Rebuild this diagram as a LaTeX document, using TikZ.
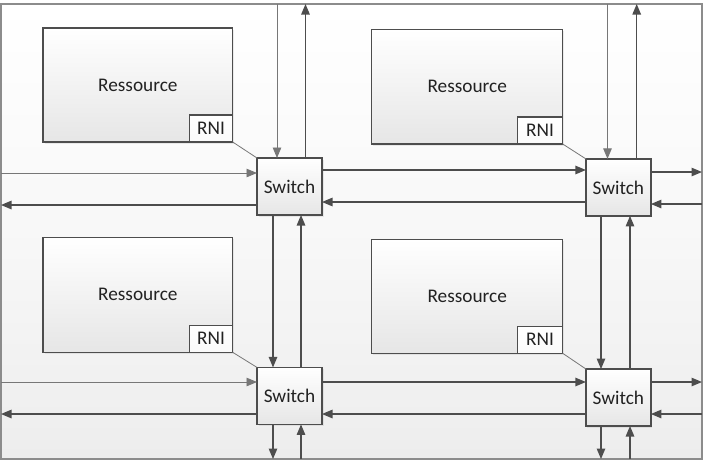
\documentclass[tikz,border=0pt]{standalone}
\usepackage{fontspec}
\setmainfont{Carlito}
\usetikzlibrary{arrows.meta,shadows}
\definecolor{linec}{HTML}{4D4D4D}
\definecolor{lightc}{HTML}{777777}
\definecolor{framec}{HTML}{8C8C8C}
\definecolor{textc}{HTML}{222222}
\definecolor{boxbot}{HTML}{E6E6E6}
\definecolor{bgbot}{HTML}{EDEDED}
\begin{document}
\begin{tikzpicture}[x=1pt,y=-1pt,
  every node/.style={inner sep=0pt,outer sep=0pt,text=textc,font=\fontsize{19.3}{22}\selectfont},
  bgframe/.style={draw=framec,line width=1.2pt,top color=white,bottom color=bgbot,middle color=white!60!bgbot},
  resbox/.style={draw=linec,line width=1.2pt,top color=white,bottom color=boxbot,
    drop shadow={opacity=0.15,shadow xshift=1.5pt,shadow yshift=-1.5pt}},
  rnibox/.style={draw=linec,line width=1.1pt,fill=white,top color=white,bottom color=white!80!boxbot},
  switchbox/.style={draw=linec,line width=1.2pt,top color=white,bottom color=boxbot,
    minimum width=65pt,minimum height=57pt,
    drop shadow={opacity=0.15,shadow xshift=1.5pt,shadow yshift=-1.5pt}},
  conn/.style={draw=linec,line width=1.2pt,-{Triangle[length=10.5pt,width=8.5pt]}},
  connlight/.style={draw=lightc,line width=0.9pt,-{Triangle[length=10.5pt,width=8.5pt]}},
  link/.style={draw=lightc,line width=0.8pt}
]
\useasboundingbox (0,0) rectangle (705,467);
\fill[white] (0,0) rectangle (705,467);

% frame
\node[bgframe,minimum width=701pt,minimum height=455pt] (frame) at (351.5,231.5) {};

% resources
\node[resbox,minimum width=189.7pt,minimum height=114pt] (r1) at (137.85,85) {Ressource};
\node[resbox,minimum width=191pt,minimum height=114.7pt] (r2) at (467.2,86.65) {Ressource};
\node[resbox,minimum width=189.7pt,minimum height=115pt] (r3) at (137.85,294.8) {Ressource};
\node[resbox,minimum width=191pt,minimum height=114pt] (r4) at (467.2,296.3) {Ressource};

% RNI
\node[rnibox,minimum width=43.4pt,minimum height=27pt,anchor=south east] (n1) at (r1.south east) {RNI};
\node[rnibox,minimum width=45.4pt,minimum height=27pt,anchor=south east] (n2) at (r2.south east) {RNI};
\node[rnibox,minimum width=43.4pt,minimum height=27pt,anchor=south east] (n3) at (r3.south east) {RNI};
\node[rnibox,minimum width=45.4pt,minimum height=27pt,anchor=south east] (n4) at (r4.south east) {RNI};

% switches
\node[switchbox] (s1) at (289.5,186.5) {Switch};
\node[switchbox] (s2) at (618.4,187.4) {Switch};
\node[switchbox] (s3) at (289.5,395.9) {Switch};
\node[switchbox] (s4) at (618.4,397.5) {Switch};

% RNI links
\draw[link] (n1.south east) -- (s1.north west);
\draw[link] (n2.south east) -- (s2.north west);
\draw[link] (n3.south east) -- (s3.north west);
\draw[link] (n4.south east) -- (s4.north west);

% guide coordinates
\coordinate (xa1) at (277,0);
\coordinate (xa2) at (305.5,0);
\coordinate (xa3) at (273,0);
\coordinate (xa4) at (301,0);
\coordinate (xb1) at (607.5,0);
\coordinate (xb2) at (636.7,0);
\coordinate (xb3) at (601,0);
\coordinate (xb4) at (630,0);
\coordinate (yh1) at (0,173);
\coordinate (yh2) at (0,205);
\coordinate (yh3) at (0,170);
\coordinate (yh4) at (0,202);
\coordinate (yh5) at (0,172);
\coordinate (yh6) at (0,204);
\coordinate (yg1) at (0,382);
\coordinate (yg2) at (0,414);

% vertical connectors, left column
\draw[connlight] (frame.north -| xa1) -- (s1.north -| xa1);
\draw[conn] (s1.north -| xa2) -- (frame.north -| xa2);
\draw[conn] (s1.south -| xa3) -- (s3.north -| xa3);
\draw[conn] (s3.north -| xa4) -- (s1.south -| xa4);
\draw[conn] (s3.south -| xa3) -- (frame.south -| xa3);
\draw[conn] (frame.south -| xa4) -- (s3.south -| xa4);

% vertical connectors, right column
\draw[connlight] (frame.north -| xb1) -- (s2.north -| xb1);
\draw[conn] (s2.north -| xb2) -- (frame.north -| xb2);
\draw[conn] (s2.south -| xb3) -- (s4.north -| xb3);
\draw[conn] (s4.north -| xb4) -- (s2.south -| xb4);
\draw[conn] (s4.south -| xb3) -- (frame.south -| xb3);
\draw[conn] (frame.south -| xb4) -- (s4.south -| xb4);

% horizontal connectors, top row
\draw[connlight] (frame.west |- yh1) -- (s1.west |- yh1);
\draw[conn] (s1.west |- yh2) -- (frame.west |- yh2);
\draw[conn] (s1.east |- yh3) -- (s2.west |- yh3);
\draw[conn] (s2.west |- yh4) -- (s1.east |- yh4);
\draw[conn] (s2.east |- yh5) -- (frame.east |- yh5);
\draw[conn] (frame.east |- yh6) -- (s2.east |- yh6);

% horizontal connectors, bottom row
\draw[connlight] (frame.west |- yg1) -- (s3.west |- yg1);
\draw[conn] (s3.west |- yg2) -- (frame.west |- yg2);
\draw[conn] (s3.east |- yg1) -- (s4.west |- yg1);
\draw[conn] (s4.west |- yg2) -- (s3.east |- yg2);
\draw[conn] (s4.east |- yg1) -- (frame.east |- yg1);
\draw[conn] (frame.east |- yg2) -- (s4.east |- yg2);
\end{tikzpicture}
\end{document}
